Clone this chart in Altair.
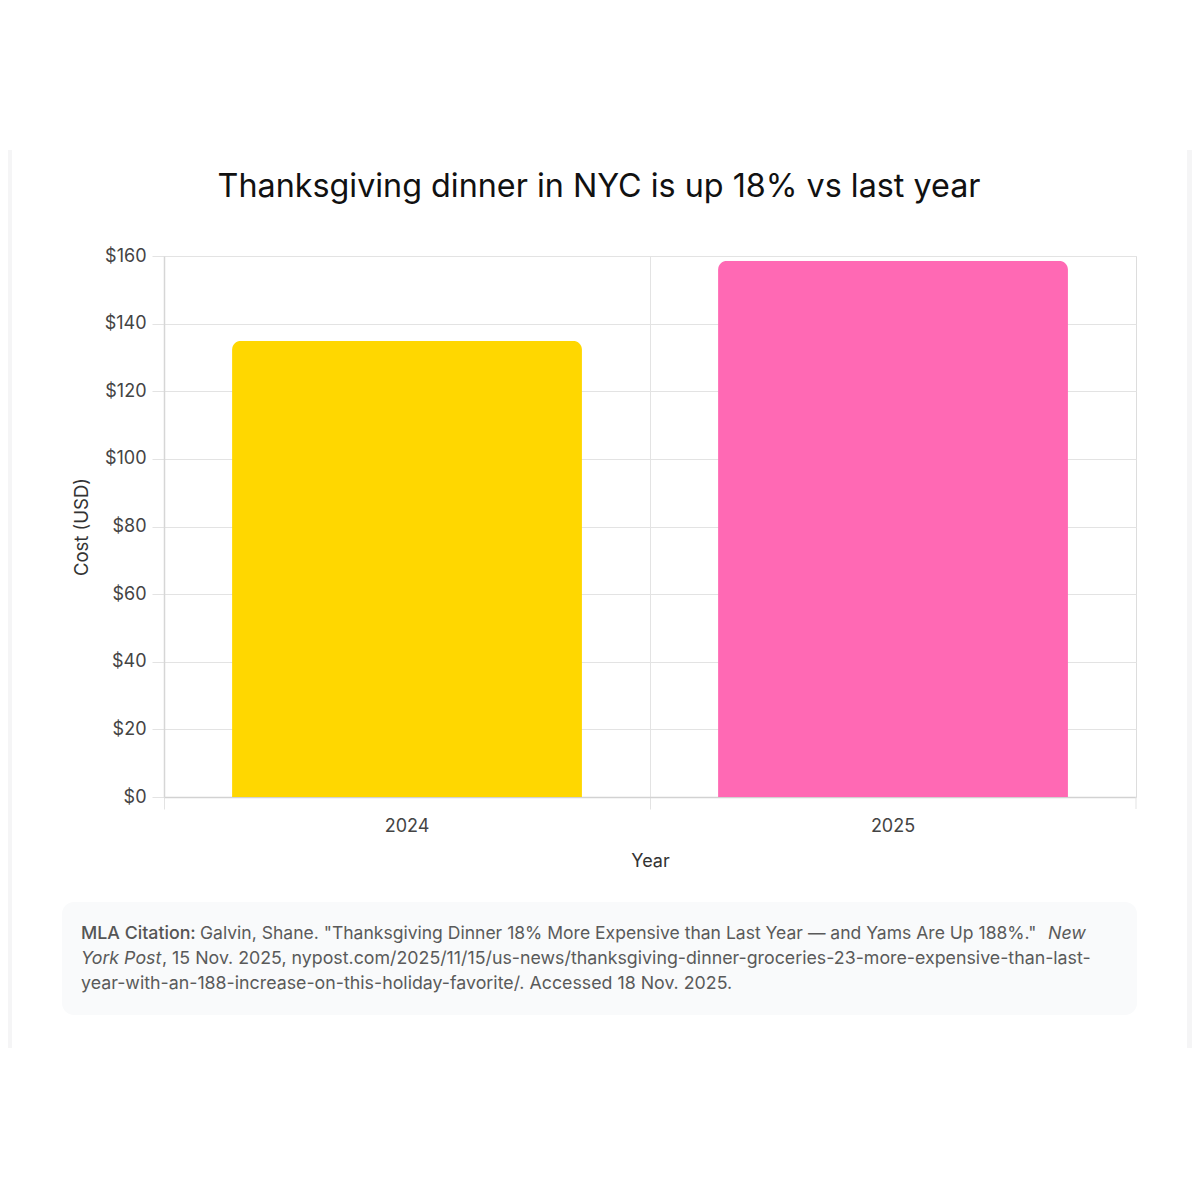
import altair as alt
import pandas as pd

# ---- data ----
years = ["2024", "2025"]
costs = [134.9, 158.6]
bar_colors = ["#FFD700", "#FF69B4"]
y_ticks = [0, 20, 40, 60, 80, 100, 120, 140, 160]

title_text = "Thanksgiving dinner in NYC is up 18% vs last year"
cite_label = "MLA Citation:"
cite_line1 = 'Galvin, Shane. "Thanksgiving Dinner 18% More Expensive than Last Year \u2014 and Yams Are Up 188%."'
cite_italic1 = "New"
cite_italic2 = "York Post"
cite_line2 = ", 15 Nov. 2025, nypost.com/2025/11/15/us-news/thanksgiving-dinner-groceries-23-more-expensive-than-last-"
cite_line3 = "year-with-an-188-increase-on-this-holiday-favorite/. Accessed 18 Nov. 2025."

FONT = "Inter"
df = pd.DataFrame({"Year": years, "Cost": costs})
one = pd.DataFrame({"k": [0]})

# plot area origin on page: (164, 256); size 972 x 541
OX, OY = 164, 256


def px(x):
    return x - OX


def py(y):
    return y - OY


base1 = alt.Chart(one)

# side shadow strips of the card
strip_l = base1.mark_rect(color="#f5f5f6").encode(
    x=alt.value(px(8)), x2=alt.value(px(12)), y=alt.value(py(150)), y2=alt.value(py(1048)))
strip_r = base1.mark_rect(color="#f5f5f6").encode(
    x=alt.value(px(1187)), x2=alt.value(px(1192)), y=alt.value(py(150)), y2=alt.value(py(1048)))

# citation box
cite_box = base1.mark_rect(color="#f9fafb", cornerRadius=12).encode(
    x=alt.value(px(62)), x2=alt.value(px(1137)), y=alt.value(py(902)), y2=alt.value(py(1015)))

bars = alt.Chart(df).mark_bar(
    cornerRadiusTopLeft=9, cornerRadiusTopRight=9
).encode(
    x=alt.X("Year:N", sort=years,
            scale=alt.Scale(paddingInner=0.28, paddingOuter=0.14),
            axis=alt.Axis(title="Year", labelAngle=0, bandPosition=-0.19429, grid=True,
                          gridColor="#e3e3e3", tickColor="#e3e3e3", tickSize=12,
                          domainColor="#d2d2d2", domainWidth=1.5,
                          labelFont=FONT, labelFontSize=18, labelColor="#444",
                          labelPadding=8, titleFont=FONT, titleFontSize=18,
                          titleFontWeight="normal", titleColor="#333", titlePadding=17)),
    y=alt.Y("Cost:Q", scale=alt.Scale(domain=[0, 160], nice=False),
            axis=alt.Axis(title="Cost (USD)", values=y_ticks,
                          labelExpr="'$' + datum.value",
                          gridColor="#e3e3e3", tickColor="#e3e3e3", tickSize=12,
                          domainColor="#d6d6d6", domainWidth=1.5,
                          labelFont=FONT, labelFontSize=18, labelColor="#444",
                          labelPadding=6, titleFont=FONT, titleFontSize=18.5,
                          titleFontWeight="normal", titleColor="#333", titlePadding=13)),
    color=alt.Color("Year:N", scale=alt.Scale(domain=years, range=bar_colors), legend=None),
)

# extra tick at right plot edge (band boundary)
right_tick = base1.mark_rule(color="#e3e3e3").encode(
    x=alt.value(972), y=alt.value(541), y2=alt.value(553))

title = base1.mark_text(
    text=title_text, align="center", baseline="middle", font=FONT, fontSize=32.3,
    color="#111"
).encode(x=alt.value(px(599)), y=alt.value(py(187)))


def txt(s, x, y, style="normal", weight="normal", color="#5a5a5a", size=17.8):
    return base1.mark_text(
        text=s, align="left", baseline="middle", font=FONT, fontSize=size,
        fontStyle=style, fontWeight=weight, color=color
    ).encode(x=alt.value(px(x)), y=alt.value(py(y)))


t_label = txt(cite_label, 81, 934, weight=500, color="#555")
t_l1 = txt(cite_line1, 200, 934, size=17.55)
t_i1 = txt(cite_italic1, 1048, 934, style="italic")
t_i2 = txt(cite_italic2, 81, 959, style="italic")
t_l2 = txt(cite_line2, 162, 959)
t_l3 = txt(cite_line3, 81, 984)

chart = alt.layer(
    strip_l, strip_r, cite_box, bars, right_tick, title,
    t_label, t_l1, t_i1, t_i2, t_l2, t_l3
).properties(
    width=972, height=541,
    padding={"left": 156, "top": 248, "right": 56, "bottom": 395},
    autosize=alt.AutoSizeParams(type="none"),
).configure_view(stroke="#e3e3e3").configure(background="white")

chart.save("out.html", embed_options={"renderer": "svg", "actions": False})
